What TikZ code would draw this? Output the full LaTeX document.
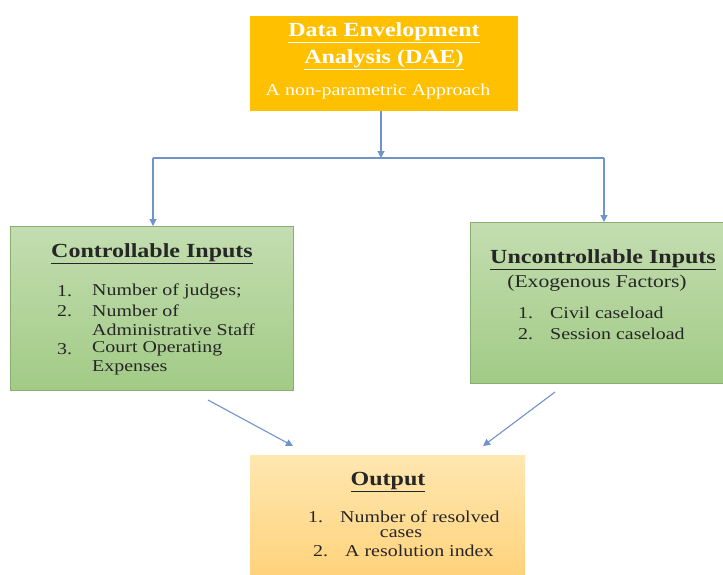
\documentclass[tikz,border=0pt]{standalone}
\usepackage{fontspec}
\setmainfont{Liberation Serif}[FakeStretch=1.2]
\usetikzlibrary{arrows.meta}
\definecolor{dorange}{HTML}{FFC000}
\definecolor{lgreenT}{HTML}{C3DDB0}
\definecolor{lgreenB}{HTML}{A2CB86}
\definecolor{lorangeT}{HTML}{FFE7B0}
\definecolor{lorangeB}{HTML}{FFD27A}
\definecolor{arr}{HTML}{6F95C8}
\definecolor{txt}{HTML}{262626}
\tikzset{
  box/.style={draw=none, inner sep=0pt, anchor=north west},
  conn/.style={draw=arr, line width=1.1pt, -{Triangle[length=7pt,width=7pt]}},
  line/.style={draw=arr, line width=1.1pt},
  head/.style={font=\fontsize{20}{24}\selectfont\bfseries, text=txt, inner sep=0pt},
  item/.style={font=\fontsize{16.6}{20}\selectfont, text=txt, inner sep=0pt, anchor=west},
}
\begin{document}
\begin{tikzpicture}[x=1pt,y=-1pt]
\useasboundingbox (0,0) rectangle (723,574);
% boxes
\path[fill=dorange] (250,16) rectangle (518,111);
\node[box, minimum width=268pt, minimum height=95pt] (dea) at (250,16) {};
\path[top color=lgreenT, bottom color=lgreenB, draw=lgreenB!85!black, line width=0.4pt] (10,226) rectangle (293,390);
\node[box, minimum width=283pt, minimum height=164pt] (ci) at (10,226) {};
\path[top color=lgreenT, bottom color=lgreenB, draw=lgreenB!85!black, line width=0.4pt] (470,222) rectangle (723,383);
\node[box, minimum width=253pt, minimum height=161pt] (ui) at (470,222) {};
\path[top color=lorangeT, bottom color=lorangeB] (250,455) rectangle (525,580);
\node[box, minimum width=275pt, minimum height=119pt] (out) at (250,455) {};

% top text
\node[head, text=white] (t1) at (384,33) {\underline{Data Envelopment}};
\node[head, text=white] (t2) at (384,60) {\underline{Analysis (DAE)}};
\node[item, text=white, anchor=center] (t3) at (378,92) {A non-parametric Approach};

% left text
\node[head] (ch) at (152,254) {\underline{Controllable Inputs}};
\node[item] (cn1) at (57,291) {1.};
\node[item] (cl1) at (92,291) {Number of judges;};
\node[item] (cn2) at (57,311) {2.};
\node[item] (cl2) at (92,311) {Number of};
\node[item] (cl2b) at (92,330) {Administrative Staff};
\node[item] (cn3) at (57,349) {3.};
\node[item] (cl3) at (92,349) {Court Operating};
\node[item] (cl3b) at (92,368) {Expenses};

% right text
\node[head] (uh) at (603,260) {\underline{Uncontrollable Inputs}};
\node[item, anchor=center, font=\fontsize{18}{21}\selectfont] (us) at (597,283) {(Exogenous Factors)};
\node[item] (un1) at (518,313) {1.};
\node[item] (ul1) at (550,313) {Civil caseload};
\node[item] (un2) at (518,334) {2.};
\node[item] (ul2) at (550,334) {Session caseload};

% output text
\node[head] (oh) at (388,482) {\underline{Output}};
\node[item] (on1) at (308,517) {1.};
\node[item] (ol1) at (340,517) {Number of resolved};
\node[item, anchor=center] (ol1b) at (401,534) {cases};
\node[item] (on2) at (313,551) {2.};
\node[item] (ol2) at (345,551) {A resolution index};

% connectors
\coordinate (j) at (381,158);
\coordinate (jl) at (153,158);
\coordinate (jr) at (604,158);
\draw[conn] (dea.south -| j) -- (j);
\draw[line] (jl) -- (jr);
\draw[conn] (jl) -- (jl |- ci.north);
\draw[conn] (jr) -- (jr |- ui.north);
\coordinate (a1) at (208,400);
\coordinate (b1) at (293,446);
\coordinate (a2) at (555,392);
\coordinate (b2) at (483,446);
\draw[conn] (a1) -- (b1);
\draw[conn] (a2) -- (b2);
\end{tikzpicture}
\end{document}
